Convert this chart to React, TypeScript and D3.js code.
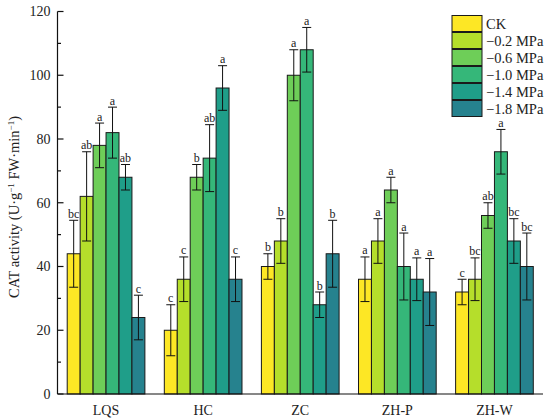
import React from "react";
import * as d3 from "d3";

const groups = ["LQS", "HC", "ZC", "ZH-P", "ZH-W"];
const treatments = ["CK", "−0.2 MPa", "−0.6 MPa", "−1.0 MPa", "−1.4 MPa", "−1.8 MPa"];
const colors = ["#FDE725", "#B5DE2B", "#6ECE58", "#35B779", "#1F9E89", "#26828E"];

// values[treatment][group]
const values = [
  [44, 20, 40, 36, 32],
  [62, 36, 48, 48, 36],
  [78, 68, 100, 64, 56],
  [82, 74, 108, 40, 76],
  [68, 96, 28, 36, 48],
  [24, 36, 44, 32, 40],
];
const errors = [
  [10.5, 8, 4, 7, 4],
  [14, 7, 7, 7, 6.7],
  [7, 4, 8, 4, 4],
  [8, 10.5, 7, 10.5, 7],
  [4, 7, 4, 6.7, 7],
  [7, 7, 10.5, 10.5, 10.5],
];
const letters = [
  ["bc", "c", "b", "a", "c"],
  ["ab", "c", "b", "a", "bc"],
  ["a", "b", "a", "a", "ab"],
  ["a", "ab", "a", "a", "a"],
  ["ab", "a", "b", "a", "bc"],
  ["c", "c", "b", "a", "bc"],
];
const yTicks = [0, 20, 40, 60, 80, 100, 120];
const yMinor = [10, 30, 50, 70, 90, 110];

const FONT = "'Liberation Serif', 'Times New Roman', serif";

export default function App() {
  const left = 57.5;
  const right = 543;
  const top = 11.5;
  const bottom = 394;
  const x0 = d3.scaleBand<string>().domain(groups).range([left, right]).paddingInner(0.2).paddingOuter(0.1);
  const x1 = d3.scaleBand<string>().domain(treatments).range([0, x0.bandwidth()]);
  const y = d3.scaleLinear().domain([0, 120]).range([bottom, top]);
  const cap = 4.5;

  return (
    <svg width={550} height={420} style={{ position: "absolute", left: 0, top: 0, background: "#fff" }} fontFamily={FONT}>
      {treatments.map((t, ti) =>
        groups.map((g, gi) => {
          const v = values[ti][gi];
          const e = errors[ti][gi];
          const bx = (x0(g) as number) + (x1(t) as number);
          const bw = x1.bandwidth();
          const cx = bx + bw / 2;
          return (
            <g key={t + g}>
              <rect x={bx} y={y(v)} width={bw} height={y(0) - y(v)} fill={colors[ti]} stroke="#1a1a1a" strokeWidth={1} />
              <line x1={cx} x2={cx} y1={y(v + e)} y2={y(v - e)} stroke="#111" strokeWidth={1} />
              <line x1={cx - cap} x2={cx + cap} y1={y(v + e)} y2={y(v + e)} stroke="#111" strokeWidth={1} />
              <line x1={cx - cap} x2={cx + cap} y1={y(v - e)} y2={y(v - e)} stroke="#111" strokeWidth={1} />
              <text x={cx} y={y(v + e) - 2.5} textAnchor="middle" fontSize={12} fill="#222">
                {letters[ti][gi]}
              </text>
            </g>
          );
        })
      )}
      {/* axes */}
      <line x1={left} x2={left} y1={top} y2={bottom} stroke="#111" strokeWidth={1.2} />
      <line x1={left} x2={right} y1={bottom} y2={bottom} stroke="#111" strokeWidth={1.2} />
      {yTicks.map((t) => (
        <g key={t}>
          <line x1={left} x2={left + 6} y1={y(t)} y2={y(t)} stroke="#111" strokeWidth={1.2} />
          <text x={left - 7} y={y(t)} dy="0.35em" textAnchor="end" fontSize={14} fill="#222">
            {t}
          </text>
        </g>
      ))}
      {yMinor.map((t) => (
        <line key={t} x1={left} x2={left + 3.5} y1={y(t)} y2={y(t)} stroke="#111" strokeWidth={1.2} />
      ))}
      {groups.map((g) => (
        <text key={g} x={(x0(g) as number) + x0.bandwidth() / 2} y={415} textAnchor="middle" fontSize={14} fill="#222">
          {g}
        </text>
      ))}
      <text transform={`translate(19,207) rotate(-90)`} textAnchor="middle" fontSize={14.5} fill="#222">
        CAT activity (U·g
        <tspan baselineShift="super" fontSize={9}>−1</tspan>
        <tspan> FW·min</tspan>
        <tspan baselineShift="super" fontSize={9}>−1</tspan>
        <tspan>)</tspan>
      </text>
      {/* legend */}
      {treatments.map((t, i) => (
        <g key={t}>
          <rect x={452} y={15.5 + i * 17} width={30} height={16} fill={colors[i]} stroke="#1a1a1a" strokeWidth={1} />
          <text x={486} y={15.5 + i * 17 + 8} dy="0.35em" fontSize={14.5} fill="#222">
            {t}
          </text>
        </g>
      ))}
    </svg>
  );
}
